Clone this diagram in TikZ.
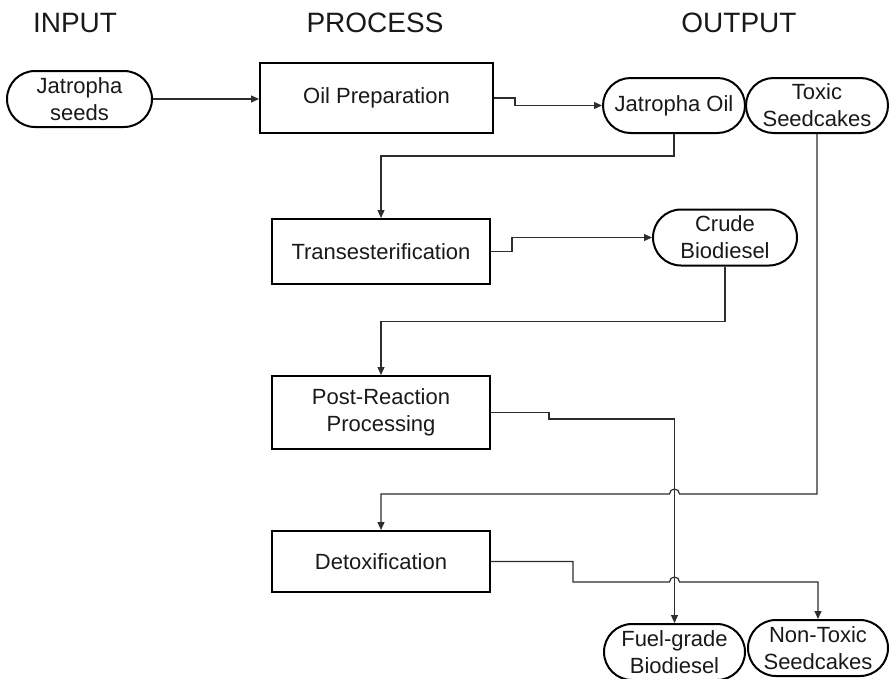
\documentclass[tikz,border=0pt]{standalone}
\usepackage{fontspec}
\setmainfont{Liberation Sans}
\usepackage{xcolor}
\usetikzlibrary{shapes.misc, arrows.meta, positioning, calc}
\definecolor{cLine}{RGB}{45,45,45}
\definecolor{cText}{RGB}{25,25,25}
\tikzset{
	heading/.style ={font=\fontsize{28}{32}\selectfont, text=cText, inner sep=0pt},
	terminal/.style={rounded rectangle, draw=black, line width=2pt, minimum width=142pt, minimum height=56pt, inner sep=0pt, align=center, text=cText, font=\fontsize{22}{27}\selectfont},
	process/.style ={rectangle, draw=black, line width=2pt, minimum width=218pt, inner sep=0pt, align=center, text=cText, font=\fontsize{22}{27}\selectfont},
	flowarrow/.style={-{Triangle[length=8pt, width=7pt]}, line width=1.2pt, draw=cLine},
}

\begin{document}
\begin{tikzpicture}[x=1pt, y=-1pt]
	\useasboundingbox (0,0) rectangle (889,678);
	% column headings
	\node[heading] (hInput)   at (75,23)  {INPUT};
	\node[heading] (hProcess) at (375,23) {PROCESS};
	\node[heading] (hOutput)  at (739,23) {OUTPUT};

	\node[terminal, minimum width=145pt] (seeds) at (79.5,99) {Jatropha\\seeds};
	\node[process, minimum width=233pt, minimum height=70pt] (oilprep) at (376.5,98) {Oil Preparation};
	\node[terminal, minimum height=55pt] (jatoil) at (674,105.5) {Jatropha Oil};
	\node[terminal, minimum height=55pt] (toxic) at (817,105.5) {Toxic\\Seedcakes};
	\node[process, minimum height=65pt] (trans) at (381,251.5) {Transesterification};
	\node[terminal, minimum width=144pt] (crude) at (725,237.5) {Crude\\Biodiesel};
	\node[process, minimum height=73pt] (post) at (381,412.5) {Post-Reaction\\Processing};
	\node[process, minimum height=61pt] (detox) at (381,561.5) {Detoxification};
	\node[terminal, minimum width=141pt] (fuel) at (674.5,652) {Fuel-grade\\Biodiesel};
	\node[terminal, minimum width=140pt] (nontox) at (818,648) {Non-Toxic\\Seedcakes};

	% where lines hop over the biodiesel line
	\coordinate (hopTop) at (fuel.north |- 0,494);
	\coordinate (hopLow) at (fuel.north |- 0,582);

	\draw[flowarrow] (seeds.east) -- (seeds.east -| oilprep.west);
	\draw[flowarrow] (oilprep.east) -- ++(21,0) |- (jatoil.west);
	\draw[flowarrow] (jatoil.south) -- ++(0,22) -| (trans.north);
	\draw[flowarrow] (trans.east) -- ++(21,0) |- (crude.west);
	\draw[flowarrow] (crude.south) -- ++(0,55) -| (post.north);
	\draw[flowarrow] (post.east) -- ++(58,0) -- ++(0,6.5) -| (fuel.north);
	\draw[flowarrow] (toxic.south) -- (toxic.south |- hopTop) -- ([xshift=5pt]hopTop)
		arc[start angle=0, end angle=-180, radius=5] -| (detox.north);
	\draw[flowarrow] (detox.east) -- ++(82,0) -- ++(0,20.5) -- ([xshift=-5pt]hopLow)
		arc[start angle=180, end angle=360, radius=5] -| (nontox.north);
\end{tikzpicture}
\end{document}
